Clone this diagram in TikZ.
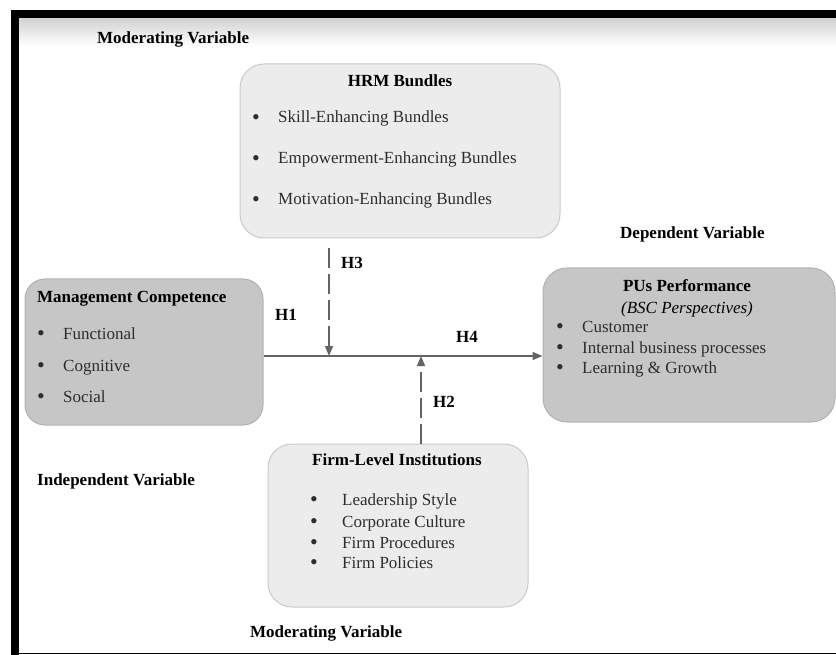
\documentclass[tikz,border=0pt]{standalone}
\usepackage{fontspec}
\setmainfont{Liberation Serif}
\usetikzlibrary{arrows.meta,positioning}
\definecolor{boxlight}{RGB}{236,236,236}
\definecolor{boxdark}{RGB}{198,198,198}
\definecolor{boxline}{RGB}{202,202,202}
\definecolor{itemgray}{RGB}{45,45,45}
\definecolor{linkgray}{RGB}{100,100,100}
\newcommand{\bulmark}{\raisebox{-1.6pt}{\scalebox{1.3}{\textbullet}}}
\newcommand{\bul}[2][26pt]{\makebox[#1][l]{\bulmark}#2}
\newcommand{\diagfont}{\fontsize{17}{20}\selectfont}
\tikzset{
 varbox/.style={rectangle,rounded corners=24pt,draw=boxline,line width=1pt,fill=boxlight,inner sep=0pt},
 darkbox/.style={varbox,fill=boxdark,draw=boxdark!90!black},
 title/.style={font=\diagfont\bfseries,inner sep=0pt,anchor=base},
 item/.style={font=\diagfont,text=itemgray,inner sep=0pt,anchor=base west},
 varlabel/.style={font=\diagfont\bfseries,inner sep=0pt,anchor=base west},
 link/.style={-{Triangle[length=10pt,width=8pt]},line width=1.6pt,draw=linkgray},
 modlink/.style={link,dash pattern=on 20pt off 6pt}}
\begin{document}
\begin{tikzpicture}[x=1pt,y=-1pt]
\useasboundingbox (0,0) rectangle (836,655);
% frame of the scanned page
\shade[top color=black!18,bottom color=white] (19,18) rectangle (836,46);
\fill[black] (11,10) rectangle (836,18);
\fill[black] (11,10) rectangle (19,655);
\fill[black] (19,652.5) rectangle (836,654);
% boxes
\node[varbox,minimum width=320pt,minimum height=174pt] (hrm) at (400,151) {};
\node[darkbox,rounded corners=20pt,minimum width=238pt,minimum height=146pt] (mgmt) at (144,352) {};
\node[darkbox,minimum width=292pt,minimum height=154pt] (pus) at (689,345) {};
\node[varbox,minimum width=260pt,minimum height=163pt] (firm) at (398,525.5) {};
% HRM bundles
\node[title] (hrmtitle) at (400,87) {HRM Bundles};
\node[item] (hrm1) at (252,123) {\bul{Skill-Enhancing Bundles}};
\node[item] (hrm2) at (252,164) {\bul{Empowerment-Enhancing Bundles}};
\node[item] (hrm3) at (252,205) {\bul{Motivation-Enhancing Bundles}};
% management competence
\node[varlabel] (mgmttitle) at (37,302) {Management Competence};
\node[item] (mgmt1) at (37,339) {\bul{Functional}};
\node[item] (mgmt2) at (37,371) {\bul{Cognitive}};
\node[item] (mgmt3) at (37,402) {\bul{Social}};
% PUs performance
\node[title] (pustitle) at (687,292) {PUs Performance};
\node[title,font=\diagfont\itshape] (pussub) at (687,313) {(BSC Perspectives)};
\node[item] (pus1) at (556,332) {\bul{Customer}};
\node[item] (pus2) at (556,353) {\bul{Internal business processes}};
\node[item] (pus3) at (556,373) {\bul{Learning \& Growth}};
% firm-level institutions
\node[title] (firmtitle) at (397,465) {Firm-Level Institutions};
\node[item] (firm1) at (310,505) {\bul[32pt]{Leadership Style}};
\node[item] (firm2) at (310,527) {\bul[32pt]{Corporate Culture}};
\node[item] (firm3) at (310,548) {\bul[32pt]{Firm Procedures}};
\node[item] (firm4) at (310,568) {\bul[32pt]{Firm Policies}};
% variable labels
\node[varlabel] (modtop) at (97,44) {Moderating Variable};
\node[varlabel] (dep) at (620,239) {Dependent Variable};
\node[varlabel] (indep) at (37,485) {Independent Variable};
\node[varlabel] (modbot) at (250,637) {Moderating Variable};
% hypotheses
\coordinate (m3) at (329,356);
\coordinate (m2) at (421,356);
\draw[link] (mgmt.east |- m3) -- (pus.west |- m3);
\draw[modlink,shorten <=10pt] (hrm.south -| m3) -- (m3);
\draw[modlink] (firm.north -| m2) -- (m2);
\node[varlabel] (h1) at (275,320) {H1};
\node[varlabel] (h3) at (341,269) {H3};
\node[varlabel] (h4) at (456,342) {H4};
\node[varlabel] (h2) at (433,407) {H2};
\end{tikzpicture}
\end{document}
